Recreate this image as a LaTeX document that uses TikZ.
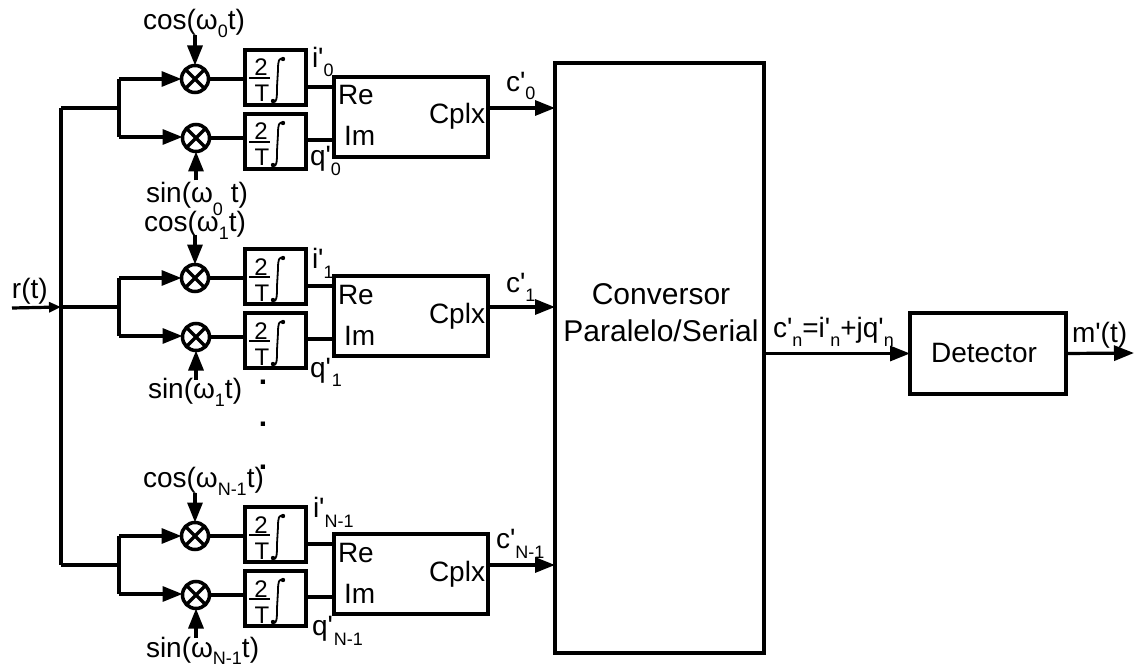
\documentclass[tikz,border=0pt]{standalone}
\usepackage{fontspec}
\setmainfont{Liberation Sans}
\usetikzlibrary{arrows.meta,calc}
\tikzset{
  x=1pt,y=-1pt,
  wire/.style={line width=3.2pt},
  arr/.style={line width=3.2pt,-{Triangle[length=20pt,width=15pt]}},
  arrsmall/.style={line width=3.2pt,-{Triangle[length=12pt,width=10pt]}},
  blockbox/.style={draw,line width=3.2pt,minimum width=#1,inner sep=0pt,outer sep=0pt},
  mixer/.style={draw,circle,line width=3.5pt,minimum size=27pt,inner sep=0pt,outer sep=0pt,
    path picture={\draw[line width=3.5pt] (path picture bounding box.south west)--(path picture bounding box.north east)
    (path picture bounding box.north west)--(path picture bounding box.south east);}},
  lab/.style={inner sep=0pt,outer sep=0pt,anchor=base west,font=\fontsize{28}{28}\selectfont},
  frac/.style={inner sep=0pt,outer sep=0pt,anchor=base,font=\fontsize{24}{24}\selectfont},
  dotmark/.style={inner sep=0pt,outer sep=0pt,anchor=base,font=\bfseries\fontsize{30}{30}\selectfont},
}
\newcommand{\sbx}[2]{\raisebox{-#1pt}{\fontsize{18}{18}\selectfont #2}}
\newcommand{\ap}{\textquotesingle}
\newcommand{\intblock}[3]{
  \node[blockbox=61pt,minimum height=55pt,anchor=north west] (#1) at (#2,#3) {};
  \node[frac] (#1two) at (#2+16,#3+26) {2};
  \node[frac] (#1T) at (#2+17,#3+52) {T};
  \draw[line width=1.8pt] (#2+4,#3+28) -- (#2+25,#3+28);
  \draw[line width=1.8pt,line cap=round] (#2+28,#3+52) .. controls (#2+32,#3+53) and (#2+32,#3+47) .. (#2+32,#3+37)
     -- (#2+33,#3+20) .. controls (#2+33,#3+10) and (#2+34,#3+8) .. (#2+38,#3+9);
  \fill (#2+28,#3+51) circle (2.2pt) (#2+38,#3+9) circle (2.2pt);
}
\newcommand{\branch}[2]{
  \coordinate (#1s) at (61,108+#2);
  \coordinate (#1j) at (119,108+#2);
  \coordinate (#1ju) at (119,79+#2);
  \coordinate (#1jd) at (119,137+#2);
  \node[mixer] (#1mu) at (195,79+#2) {};
  \node[mixer] (#1md) at (196,138+#2) {};
  \intblock{#1iu}{245}{50+#2}
  \intblock{#1id}{245}{114+#2}
  \node[blockbox=154pt,minimum height=80pt,anchor=north west] (#1cx) at (334,77+#2) {};
  \node[lab] (#1re) at (338,105+#2) {Re};
  \node[lab] (#1im) at (344,146+#2) {Im};
  \node[lab] (#1c) at (429,124+#2) {Cplx};
  \draw[wire] (#1s) -- (#1j);
  \draw[wire] (#1ju) -- (#1jd);
  \draw[arr] (#1ju) -- (#1mu.west |- #1ju);
  \draw[arr] (#1jd) -- (#1md.west |- #1jd);
  \draw[wire] (#1mu.east) -- (#1mu.east -| #1iu.west);
  \draw[wire] (#1md.east) -- (#1md.east -| #1id.west);
  \draw[wire] (#1iu.east |- 0,87+#2) -- (#1cx.west |- 0,87+#2);
  \draw[wire] (#1id.east |- 0,140+#2) -- (#1cx.west |- 0,140+#2);
  \coordinate (#1top) at ($(#1mu.north)+(0,-30)$);
  \coordinate (#1bot) at ($(#1md.south)+(0,29)$);
  \draw[arr] (#1top) -- (#1mu.north);
  \draw[arr] (#1bot) -- (#1md.south);
  \draw[arr] (#1cx.east |- 0,108+#2) -- (555,108+#2);
}
\begin{document}
\begin{tikzpicture}
\useasboundingbox (0,0) rectangle (1136,666);
\node[blockbox=209pt,minimum height=590pt,anchor=north west] (conv) at (555,63) {};
\node[lab,font=\fontsize{30}{30}\selectfont,anchor=base] (convA) at (661,304) {Conversor};
\node[lab,font=\fontsize{30}{30}\selectfont,anchor=base] (convB) at (661,341) {Paralelo/Serial};
\node[blockbox=156pt,minimum height=81pt,anchor=north west] (det) at (910,313) {};
\node[lab,anchor=base] (detl) at (984,362) {Detector};
\branch{a}{0}
\branch{b}{199}
\branch{c}{457}
\coordinate (rin) at (12,308);
\draw[arrsmall] (rin) -- (bs);
\draw[wire] (as) -- (cs);
\draw[arr] (conv.east |- det.west) -- (det.west);
\coordinate (mout) at (1134,353);
\draw[arr] (det.east) -- (mout);
% labels
\node[lab] (r) at (12,298) {r(t)};
\node[lab] (cos0) at (143,30) {cos(ω\sbx{8}{0}t)};
\node[lab] (sin0) at (146,203) {sin(ω\sbx{13}{0} t)};
\node[lab] (cos1) at (144,232) {cos(ω\sbx{8}{1}t)};
\node[lab] (sin1) at (148,398) {sin(ω\sbx{8}{1}t)};
\node[lab] (cosN) at (143,487) {cos(ω\sbx{8}{N-1}t)};
\node[lab] (sinN) at (146,657) {sin(ω\sbx{7}{N-1}t)};
\node[lab] (i0) at (312,68) {i\ap\sbx{9}{0}};
\node[lab] (q0) at (310,166) {q\ap\sbx{10}{0}};
\node[lab] (c0) at (506,92) {c\ap\sbx{8}{0}};
\node[lab] (i1) at (312,268) {i\ap\sbx{10}{1}};
\node[lab] (q1) at (310,377) {q\ap\kern1pt\sbx{9}{1}};
\node[lab] (c1) at (506,292) {c\ap\sbx{9}{1}};
\node[lab] (iN) at (313,517) {i\ap\sbx{10}{N-1}};
\node[lab] (qN) at (312,635) {q\ap\kern1pt\sbx{10}{N-1}};
\node[lab] (cN) at (496,548) {c\ap\sbx{10}{N-1}};
\node[lab] (cn) at (773,337) {c\ap\sbx{9}{n}=i\ap\sbx{9}{n}+jq\ap\sbx{9}{n}};
\node[lab] (mt) at (1072,342) {m\ap(t)};
\node[dotmark] (d1) at (263,384) {.};
\node[dotmark] (d2) at (263,426) {.};
\node[dotmark] (d3) at (263,469) {.};
\end{tikzpicture}
\end{document}
